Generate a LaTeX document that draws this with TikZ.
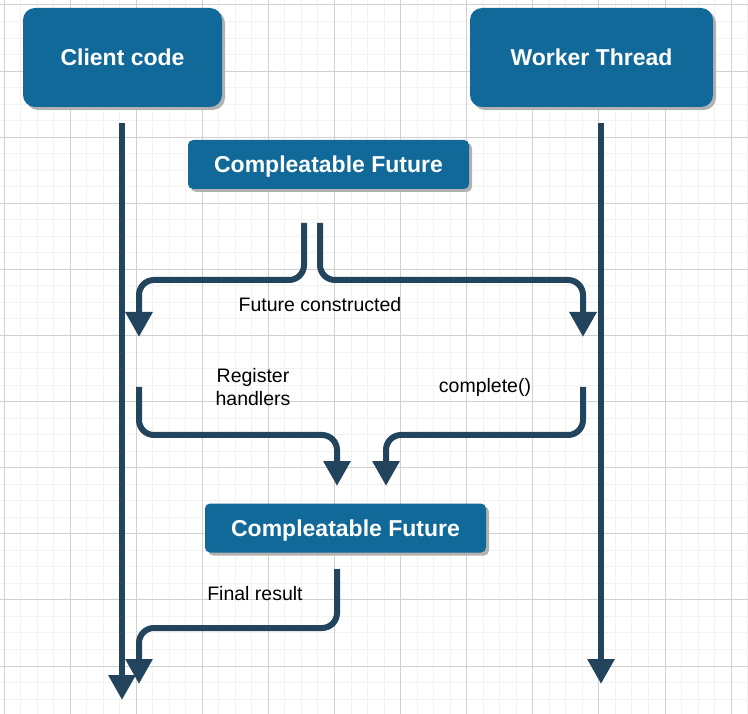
\documentclass[tikz,border=0pt]{standalone}
\usepackage{fontspec}
\setmainfont{Liberation Sans}
\usetikzlibrary{arrows.meta,shadows}
\definecolor{boxblue}{HTML}{11699A}
\definecolor{flowline}{HTML}{23445D}
\definecolor{gridmajor}{HTML}{D0D0D0}
\definecolor{gridminor}{HTML}{F2F2F2}

\tikzset{
  actorbox/.style={fill=boxblue, text=white, inner sep=0pt, rounded corners=12pt,
    font=\fontsize{23}{27}\selectfont\bfseries, text depth=0pt,
    drop shadow={shadow xshift=3pt, shadow yshift=-3pt, fill=black!30, opacity=1}},
  futurebox/.style={actorbox, rounded corners=5pt, minimum width=281pt, minimum height=49pt},
  flow/.style={draw=flowline, line width=6pt, rounded corners=15pt,
    -{Triangle[width=26pt,length=25pt]}},
  label/.style={font=\fontsize{19.5}{23}\selectfont, inner sep=0pt, align=center}
}

\begin{document}
\begin{tikzpicture}[x=1pt,y=-1pt]
        \useasboundingbox (0,0) rectangle (748,714);
        \fill[white] (0,0) rectangle (748,714);

        % Grid
        \foreach \i in {-1,...,46} {
            \draw[gridminor, line width=1pt] (4+16.525*\i,0) -- (4+16.525*\i,714);
            \draw[gridminor, line width=1pt] (0,5+16.525*\i) -- (748,5+16.525*\i);
        }
        \foreach \i in {0,...,11} {
            \draw[gridmajor, line width=1pt] (4+66.1*\i,0) -- (4+66.1*\i,714);
            \draw[gridmajor, line width=1pt] (0,5+66.1*\i) -- (748,5+66.1*\i);
        }

        % Participants
        \node[actorbox, minimum width=199pt, minimum height=99pt] (client) at (122.5,57.5) {Client code};
        \node[actorbox, minimum width=243pt, minimum height=99pt] (worker) at (591.5,57.5) {Worker Thread};

        % Futures
        \node[futurebox] (future1) at (328.5,164.5) {Compleatable Future};
        \node[futurebox] (future2) at (345.5,528) {Compleatable Future};

        % Lifelines
        \coordinate (clienttop) at (122,123);
        \coordinate (clientend) at (122,700);
        \coordinate (workertop) at (601,123);
        \coordinate (workerend) at (601,684);
        \draw[flow, rounded corners=0pt] (clienttop) -- (clientend);
        \draw[flow, rounded corners=0pt] (workertop) -- (workerend);

        % Future constructed
        \coordinate (splitleft) at (304,223);
        \coordinate (splitright) at (320,223);
        \coordinate (clientgot) at (139,337);
        \coordinate (workergot) at (583,337);
        \draw[flow] (splitleft) |- (200,280) -| (clientgot);
        \draw[flow] (splitright) |- (500,280) -| (workergot);
        \node[label] (constructed) at (320,305) {Future constructed};

        % Register handlers / complete()
        \coordinate (handlersfrom) at (139,387);
        \coordinate (handlersto) at (337,486);
        \coordinate (completefrom) at (583,387);
        \coordinate (completeto) at (386,486);
        \draw[flow] (handlersfrom) |- (240,435) -| (handlersto);
        \draw[flow] (completefrom) |- (480,435) -| (completeto);
        \node[label] (handlers) at (253,387) {Register\\handlers};
        \node[label] (complete) at (485,387) {complete()};

        % Final result
        \coordinate (resultfrom) at (337,569);
        \coordinate (resultto) at (139,684);
        \draw[flow] (resultfrom) |- (240,628) -| (resultto);
        \node[label] (result) at (255,594) {Final result};
    \end{tikzpicture}
\end{document}
